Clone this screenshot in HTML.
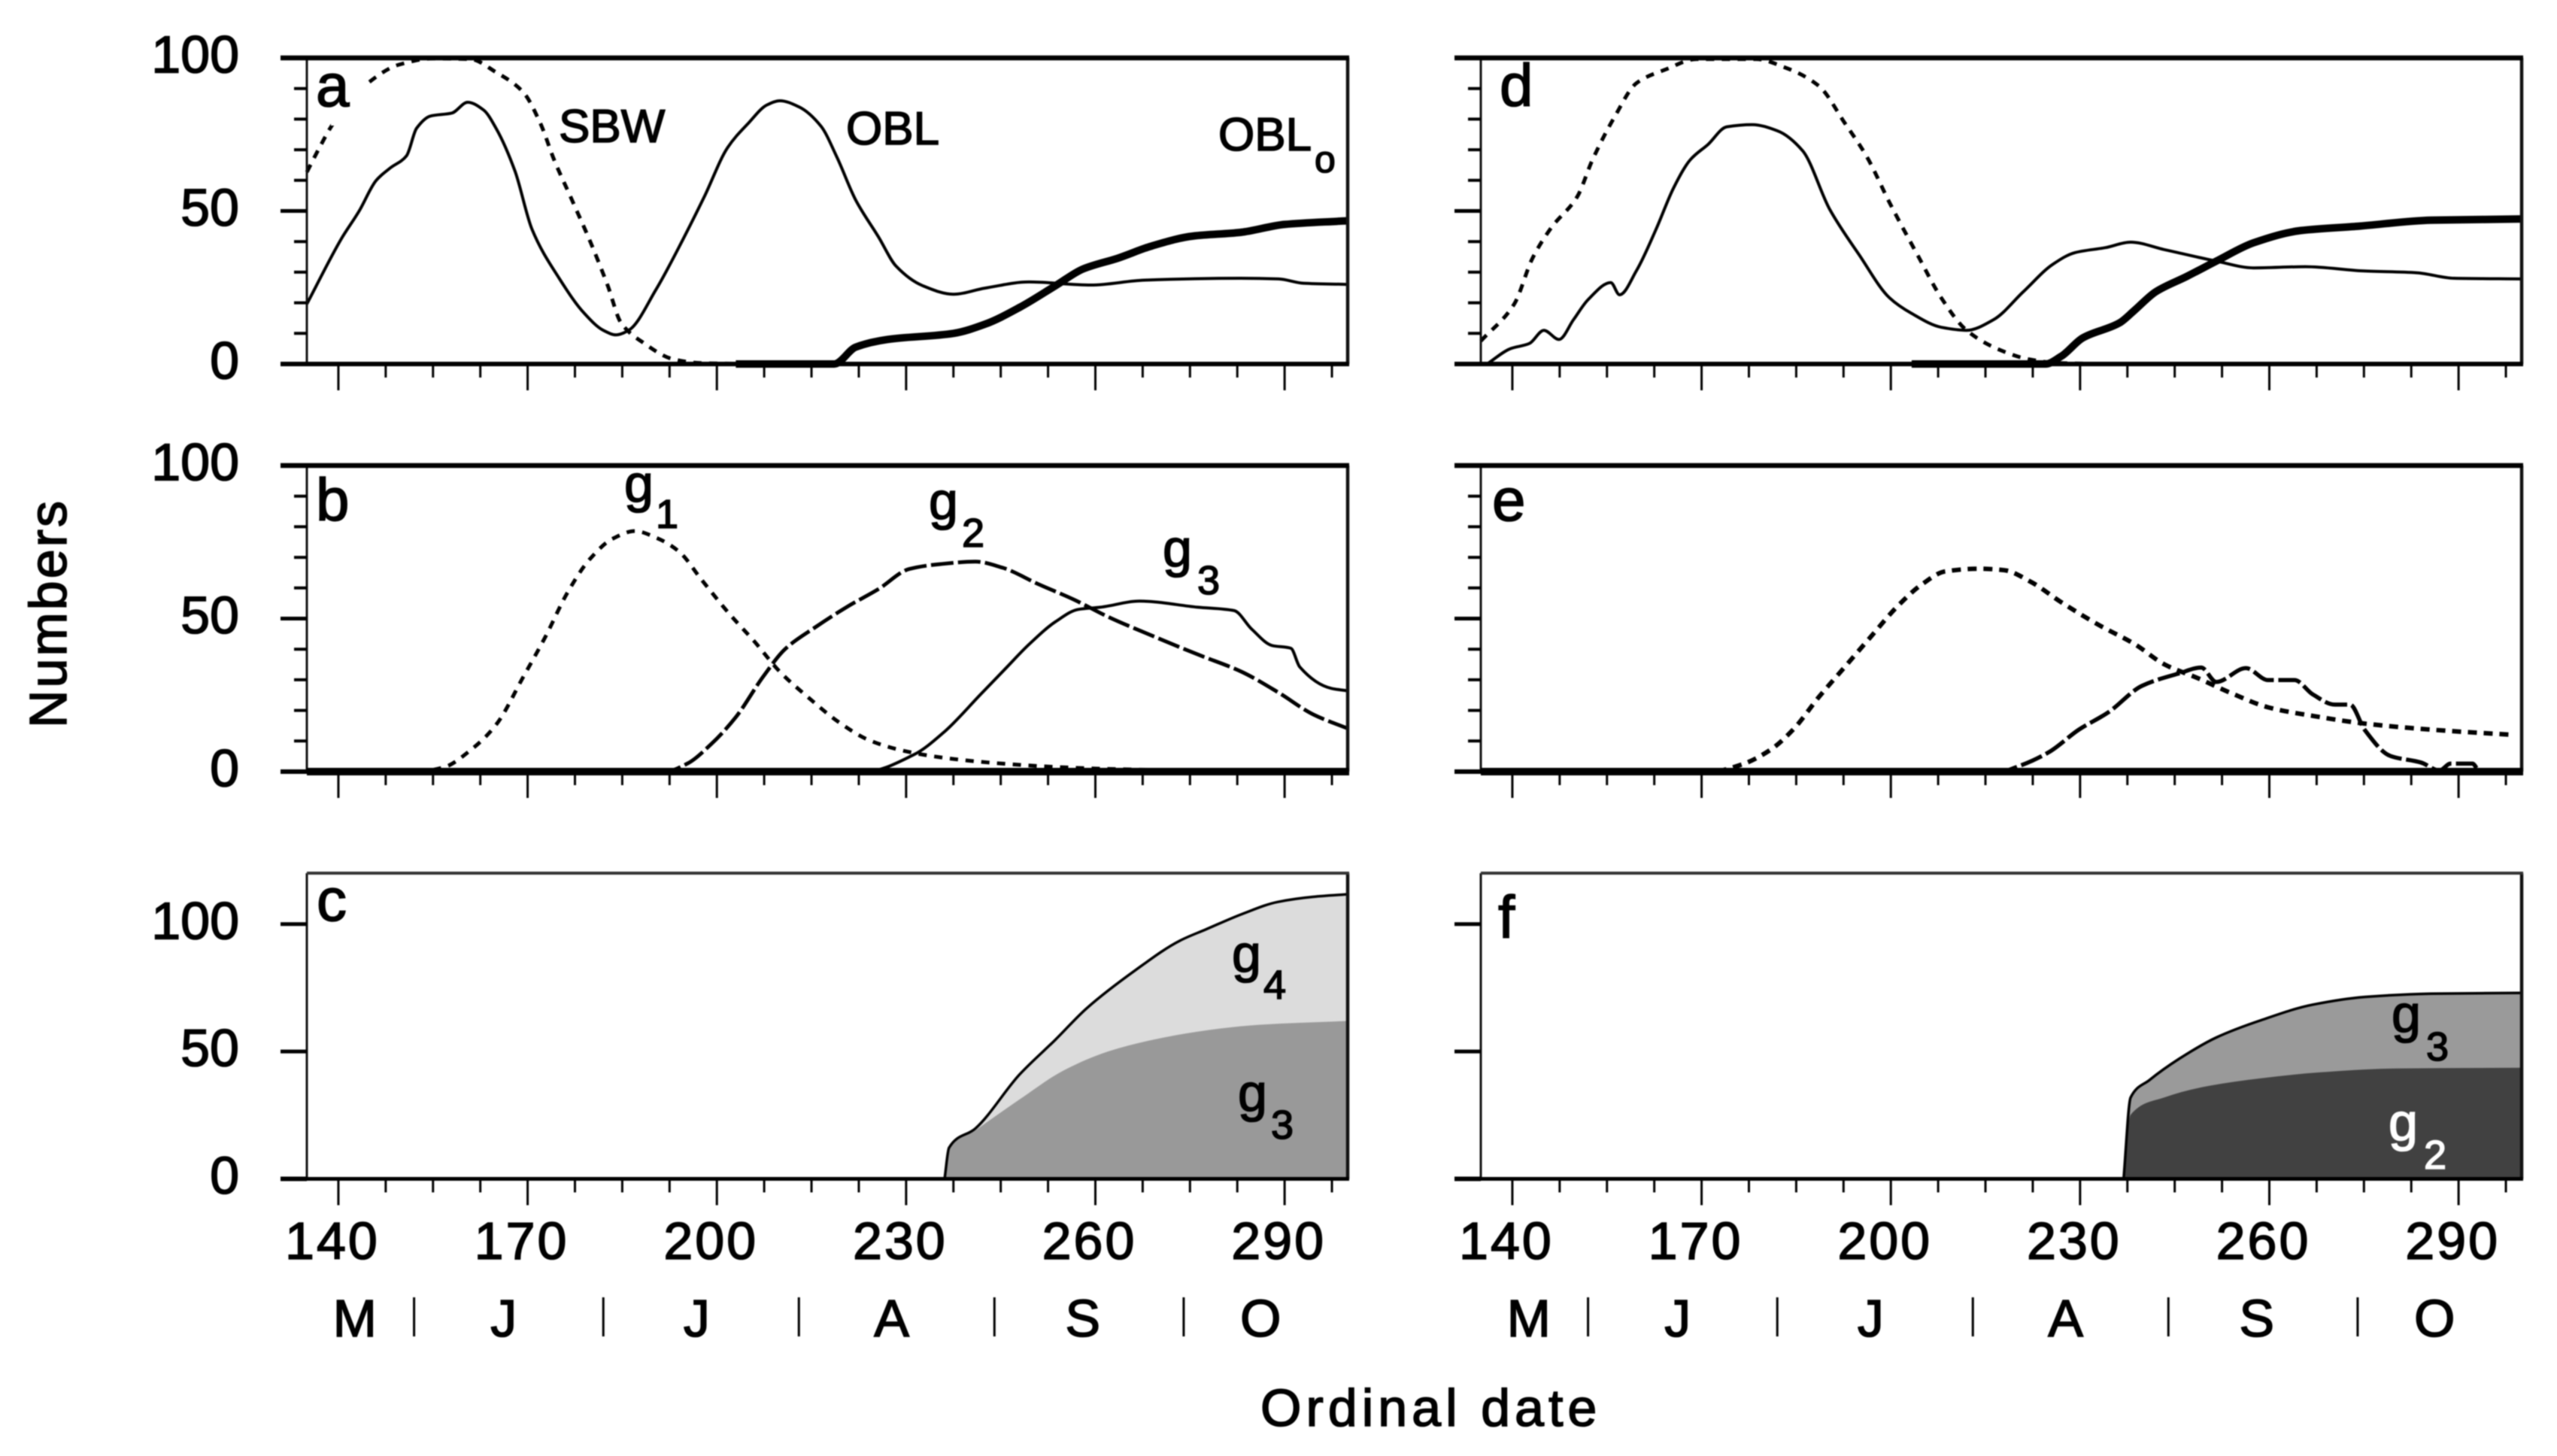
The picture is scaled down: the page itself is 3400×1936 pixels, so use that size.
<!DOCTYPE html>
<html lang="en">
<head>
<meta charset="utf-8">
<title>Numbers by ordinal date</title>
<style>
html,body{margin:0;padding:0;background:#fff;width:3400px;height:1936px;overflow:hidden}
svg{display:block;filter:blur(0.8px)}
text{font-family:"Liberation Sans",sans-serif;fill:#000;stroke:#000;stroke-width:1.6px}
</style>
</head>
<body>
<svg id="chart" xmlns="http://www.w3.org/2000/svg" width="3400" height="1936" viewBox="0 0 3400 1936">
<rect x="0" y="0" width="3400" height="1936" fill="#fff"/>
<g id="plots"></g>
<rect x="440" y="108" width="48" height="59" fill="#fff"/>
<g font-size="80">
<text x="420" y="141">a</text>
<text x="420" y="692">b</text>
<text x="421" y="1224">c</text>
<text x="1994" y="141">d</text>
<text x="1984" y="692">e</text>
<text x="1992" y="1247">f</text>
</g>
<g>
<text x="743" y="189" font-size="62">SBW</text>
<text x="1125" y="192" font-size="62">OBL</text>
<text x="1620" y="200" font-size="62">OBL</text>
<text x="1748" y="229" font-size="50">o</text>
<text x="830" y="667" font-size="70">g</text>
<text x="872" y="702" font-size="54">1</text>
<text x="1235" y="690" font-size="70">g</text>
<text x="1279" y="727" font-size="54">2</text>
<text x="1546" y="753" font-size="70">g</text>
<text x="1592" y="790" font-size="54">3</text>
</g>
<g id="plots-top">
<text x="1638" y="1292" font-size="70">g</text>
<text x="1680" y="1328" font-size="54">4</text>
<text x="1646" y="1477" font-size="70">g</text>
<text x="1690" y="1514" font-size="54">3</text>
<text x="3180" y="1372" font-size="70">g</text>
<text x="3226" y="1410" font-size="54">3</text>
<text x="3176" y="1516" font-size="70" style="fill:#fff;stroke:#fff">g</text>
<text x="3223" y="1554" font-size="54" style="fill:#fff;stroke:#fff">2</text>
</g>
<text transform="translate(88 968) rotate(-90)" font-size="70" letter-spacing="3">Numbers</text>
<text x="1676" y="1896" font-size="70" letter-spacing="6">Ordinal date</text>
</svg>
<script>
// Axis data
const xTicks = [140,147.5,155,162.5,170,177.5,185,192.5,200,207.5,215,222.5,230,237.5,245,252.5,260,267.5,275,282.5,290,297.5];
const xTickLabels = [140,170,200,230,260,290];
const yTicksPercent = [0,10,20,30,40,50,60,70,80,90,100];
const yTicksArea = [0,50,100];
const yLabelsPercent = [0,50,100];
const yLabelsArea = [0,50,100];
const monthLetters = ["M","J","J","A","S","O"];
const monthCenterDays = [142.6,166.2,196.8,227.7,258,286.2];
const monthBoundaryDays = [152,182,213,244,274];

// Panel a
const aSbwDays = [135,137,139,144.7,149.6,155,160.9,165,169.3,172,174.2,177,180,182.7,184.8,188.3,193.2,197.5,203];
const aSbwVals = [62.7,70.7,78,91.8,97.8,99.8,99.6,95.3,88.8,78.7,66.7,53.7,39.6,25.6,13.5,7,1.5,0.3,0.1];
const aOblDays = [135,140.5,143.3,146,148.2,150.8,152.4,154.6,158,160.5,163,165,168,170.7,175,179,182,184,186,190.4,194.6,198,201.7,205,208,210,213,216.5,219,222,225.6,228.4,232.6,237.5,242.5,249.5,259.3,267.8,283,289,293,300];
const aOblVals = [19.6,41,50,60,64,68,77,81,82,85.5,83,77,63,44,28,16.5,11,9.5,11,24.5,40.6,54.6,70.7,78.7,84.7,86,84,77.7,67.7,53.6,41.6,32,25.6,22.8,24.8,26.8,25.8,27.4,28,27.8,26.4,26];
const aOblODays = [203,217,218.6,222,227,237.5,242.5,248,253.7,258,263.6,269,275.5,283,290,300];
const aOblOVals = [0,0,0,5.5,8,10,13,18.5,25.6,31,34.6,38.6,41.8,43,45.6,46.8];

// Panel b
const bG1Days = [135,150.5,152.4,156.7,161,165,169.3,172.8,176.4,179.9,183.4,187,190.4,194,197.5,201.7,206,210,214.4,219.3,224,229.8,236.8,245.3,255,266,277.6,290];
const bG1Vals = [0,0,0,1.4,7.1,15.3,30.9,44,58.8,69.5,76,78.6,76.4,71.9,62.9,52.2,42.4,32.6,24.4,16.2,10.4,6.7,4.3,2.6,1.4,0.7,0.4,0];
const bG2Days = [135,190,191.8,195.3,199,203,207.3,210.8,215.7,220.7,225.6,230.5,235.4,241,245.3,250.9,256.5,262,269,276.2,283.2,288.9,294.6,300];
const bG2Vals = [0,0,0,2.6,8.8,17.8,30.9,40,47.3,53.9,59.6,66.2,67.8,68.6,66.6,61.3,56.3,50.6,44.4,38.3,32.6,26,18.6,14.1];
const bG3Days = [135,222,223.5,231.2,236,241.8,246,249.5,253.7,257.3,260.8,267,276.2,282,284.8,288,291,292.4,297.4,300];
const bG3Vals = [0,0,0,5.5,12.9,25.2,34.2,41.6,49,53,53.7,55.7,53.7,52.6,46.5,41.2,40.3,34.2,27.2,26.4];

// Panel c
const cTotalDays = [236.1,236.8,241,248,253.7,258.6,266.4,273.4,277.6,283.3,288.9,294.5,300];
const cTotalVals = [0,12.2,19.8,41,54.7,66.9,82,93.5,98,104,108.7,110.7,111.7];
const cG3Days = [236.1,236.8,241,248,255,262,269.3,276.2,286,300];
const cG3Vals = [0,11.4,19,31.2,42.6,50,54.7,57.8,60.5,62];

// Panel d
const dSbwDays = [135,140.3,143.2,146.2,150.3,152.7,156.2,159.7,164.4,169.2,178.6,183.3,188.6,192.7,196.2,199.8,204.5,208,212,217.4,222,226.9,237];
const dSbwVals = [7.5,19.6,34.6,44.6,54.7,66.7,80.7,91.8,96.3,99.6,99.6,96.8,90.8,78.7,67.7,52.7,34.6,21.6,11,4.5,1.5,0.3,0];
const dOblDays = [136,139.7,142.7,145,147.4,149.7,152,155.6,157,159.7,162.7,165.6,168.2,171,174,178,182,186,190.3,195,199.8,203.3,208,212,216.3,221,225.7,229.2,234,238,243.3,251.6,257.5,265.7,275,283.4,289.3,300];
const dOblVals = [0,5,6.7,11,8,14.5,21,26.6,22.6,30.6,43.6,57.7,66.7,71.7,77.5,78.2,76.2,69.7,50.6,35.6,21.6,16.5,12,11,14.5,23.6,32.6,36.4,38,39.8,37.4,33.6,31.4,31.8,30.4,29.8,28,27.8];
const dOblODays = [203.3,223,224.5,227,230.4,236.3,238.6,242,246.9,251.6,257.5,265,274,285.7,300];
const dOblOVals = [0,0,0,2.5,8.5,13.5,17.5,23.6,28.6,33.6,39.6,43.6,45,47,47.4];

// Panel e
const eG1Days = [135,170,171.5,176.2,180.9,184.5,188.6,192.7,196.8,201,205,208.6,214,218,222.2,226.9,232.8,238.7,243.4,248.7,254,259.8,266.9,275.1,285.7,298.7];
const eG1Vals = [0,0,0,2.2,7.1,13.7,24.4,34.2,44,53.9,61.3,65.4,66.3,65.8,62,55.5,48.1,41.6,35,30.5,25.6,21,18.2,15.7,13.7,12];
const eG2Days = [135,216,217.4,220.3,225,229.8,234.5,239.8,245.7,249.2,251.6,256.3,259.8,264,266.9,270.4,272.8,275.1,279.2,284,287,288.7,292.2,293.4,300];
const eG2Vals = [0,0,0,1.8,6.3,13.7,19.4,28,32.1,34,29.3,33.8,29.9,29.9,25.2,21.9,21.9,13.7,5.1,3,0.4,2.6,2.6,0,0];

// Panel f
const fTotalDays = [236.9,238,241,245.7,251.6,258.7,266.9,275.1,285.7,300];
const fTotalVals = [0,31.9,38.8,47.1,55.5,62.3,68.4,71.4,72.7,73];
const fG2Days = [236.9,238,243.3,250.4,258.7,268,279.9,300];
const fG2Vals = [0,25.1,31.9,36.5,39.5,41.8,43.3,43.6];

const xMin = 135, xMax = 300;
const panelWidth = 1384;
const NS = "http://www.w3.org/2000/svg";
const root = document.getElementById("plots");

function mk(parent, tag, attrs, content) {
  const el = document.createElementNS(NS, tag);
  for (const k in attrs) el.setAttribute(k, attrs[k]);
  if (content !== undefined) el.textContent = content;
  parent.appendChild(el);
  return el;
}
function xScale(p, d) { return p.left + (d - xMin) / (xMax - xMin) * panelWidth; }
function yScale(p, v) { return p.bottom - v / p.yMax * (p.bottom - p.top); }
function smoothPath(p, days, vals) {
  const X = days.map(d => xScale(p, d));
  const Y = vals.map(v => yScale(p, v));
  const n = X.length;
  // Monotone cubic tangents: no overshoot next to steep edges
  const sec = [];
  for (let i = 0; i < n - 1; i++) sec.push((Y[i + 1] - Y[i]) / (X[i + 1] - X[i]));
  const m = X.map((x, i) => {
    if (i === 0) return sec[0];
    if (i === n - 1) return sec[n - 2];
    const a = sec[i - 1], b = sec[i];
    if (a * b <= 0) return 0;
    const h0 = X[i] - X[i - 1], h1 = X[i + 1] - X[i];
    return (h0 + h1) * 3 / ((2 * h1 + h0) / a + (h1 + 2 * h0) / b) / 1;
  });
  let s = "M" + X[0].toFixed(1) + " " + Y[0].toFixed(1);
  for (let i = 0; i < n - 1; i++) {
    const dx = (X[i + 1] - X[i]) / 3;
    s += "C" + (X[i] + dx).toFixed(1) + " " + (Y[i] + m[i] * dx).toFixed(1) + " " + (X[i + 1] - dx).toFixed(1) + " " + (Y[i + 1] - m[i + 1] * dx).toFixed(1) + " " + X[i + 1].toFixed(1) + " " + Y[i + 1].toFixed(1);
  }
  return s;
}
function drawLine(p, days, vals, name, width, dash) {
  const attrs = {d: smoothPath(p, days, vals), fill: "none", stroke: "#000", "stroke-width": width, "stroke-linejoin": "round"};
  if (dash) attrs["stroke-dasharray"] = dash;
  const el = mk(p.group, "path", attrs);
  
  
}
function drawArea(p, days, vals, name, fill) {
  const d = smoothPath(p, days, vals) + "L" + xScale(p, xMax).toFixed(1) + " " + yScale(p, 0).toFixed(1) + "Z";
  const el = mk(p.group, "path", {d: d, fill: fill});
  
  
}
function drawAxes(p) {
  const right = p.left + panelWidth;
  const overhang = p.left - 35;
  const left = mk(p.group, "line", {x1: p.left, x2: p.left, y1: p.top, y2: p.bottom, stroke: "#111", "stroke-width": 3});
  
  
  const rightEdge = mk(p.group, "line", {x1: right, x2: right, y1: p.top, y2: p.bottom, stroke: "#111", "stroke-width": 4.5});
  
  
  const top = mk(p.group, "line", {x1: p.area ? p.left : overhang, x2: right + 2, y1: p.top, y2: p.top, stroke: p.area ? "#333" : "#000", "stroke-width": p.area ? 4 : 6.5});
  
  
  const stub = mk(p.group, "line", {x1: overhang, x2: p.left, y1: p.bottom, y2: p.bottom, stroke: "#000", "stroke-width": 6});
  
  
  const base = mk(p.group, "line", {x1: p.left, x2: right + 2, y1: p.bottom, y2: p.bottom, stroke: "#000", "stroke-width": p.baseWidth});
  
  
  xTicks.forEach((d, i) => {
    const major = i % 4 === 0;
    const t = mk(p.group, "line", {x1: xScale(p, d), x2: xScale(p, d), y1: p.bottom, y2: p.bottom + (major ? 35 : 18), stroke: "#000", "stroke-width": 3});
    
    
  });
  p.yTicks.forEach(v => {
    if (v === 0 || (v === 100 && !p.area)) return;
    const major = v % 50 === 0;
    const t = mk(p.group, "line", {x1: major ? overhang : p.left - 17, x2: p.left, y1: yScale(p, v), y2: yScale(p, v), stroke: "#000", "stroke-width": major ? 5 : 4});
    
    
  });
  if (p.showYLabels) {
    p.yLabels.forEach(v => {
      const t = mk(p.group, "text", {x: 318, y: yScale(p, v) + 19.5, "text-anchor": "end", "font-size": 70}, String(v));
      
      
    });
  }
  if (p.area) {
    xTickLabels.forEach(v => {
      const t = mk(p.group, "text", {x: xScale(p, v) - 8, y: 1674, "text-anchor": "middle", "font-size": 70, "letter-spacing": 3}, String(v));
      
      
    });
    monthLetters.forEach((m, i) => {
      const t = mk(p.group, "text", {x: xScale(p, monthCenterDays[i]), y: 1777, "text-anchor": "middle", "font-size": 70}, m);
      
      
    });
    monthBoundaryDays.forEach(d => {
      const t = mk(p.group, "line", {x1: xScale(p, d), x2: xScale(p, d), y1: 1725, y2: 1777, stroke: "#000", "stroke-width": 3});
      
      
    });
  }
}
function makePanel(name, left, top, bottom, yMax, area, showYLabels, baseWidth) {
  const g = mk(root, "g", {});
  
  
  return {group: g, left, top, bottom, yMax, area, showYLabels, baseWidth,
          yTicks: area ? yTicksArea : yTicksPercent, yLabels: area ? yLabelsArea : yLabelsPercent};
}

const DOT = "11 10", DOT_E = "12 9", LONG = "30 6";

const pa = makePanel("panel-a", 408, 77, 484, 100, false, true, 6);
drawLine(pa, aSbwDays, aSbwVals, "line-a-sbw", 5, DOT);
drawLine(pa, aOblDays, aOblVals, "line-a-obl", 4);
drawLine(pa, aOblODays, aOblOVals, "line-a-oblo", 10);
drawAxes(pa);

const pb = makePanel("panel-b", 408, 619, 1026, 100, false, true, 10);
drawLine(pb, bG1Days, bG1Vals, "line-b-g1", 5, DOT);
drawLine(pb, bG2Days, bG2Vals, "line-b-g2", 5, LONG);
drawLine(pb, bG3Days, bG3Vals, "line-b-g3", 4);
drawAxes(pb);

const pc = makePanel("panel-c", 408, 1161, 1567.5, 120, true, true, 5);
drawArea(pc, cTotalDays, cTotalVals, "area-c-g4", "#dcdcdc");
drawArea(pc, cG3Days, cG3Vals, "area-c-g3", "#999");
drawLine(pc, cTotalDays, cTotalVals, "line-c-total", 3.5);
drawAxes(pc);

const pd = makePanel("panel-d", 1969, 77, 484, 100, false, false, 6);
drawLine(pd, dSbwDays, dSbwVals, "line-d-sbw", 5, DOT);
drawLine(pd, dOblDays, dOblVals, "line-d-obl", 4);
drawLine(pd, dOblODays, dOblOVals, "line-d-oblo", 10);
drawAxes(pd);

const pe = makePanel("panel-e", 1969, 619, 1026, 100, false, false, 10);
drawLine(pe, eG1Days, eG1Vals, "line-e-g1", 6, DOT_E);
drawLine(pe, eG2Days, eG2Vals, "line-e-g2", 5.5, LONG);
drawAxes(pe);

const pf = makePanel("panel-f", 1969, 1161, 1567.5, 120, true, false, 5);
drawArea(pf, fTotalDays, fTotalVals, "area-f-g3", "#9a9a9a");
drawArea(pf, fG2Days, fG2Vals, "area-f-g2", "#414141");
drawLine(pf, fTotalDays, fTotalVals, "line-f-total", 3.5);
drawAxes(pf);
</script>
</body>
</html>
